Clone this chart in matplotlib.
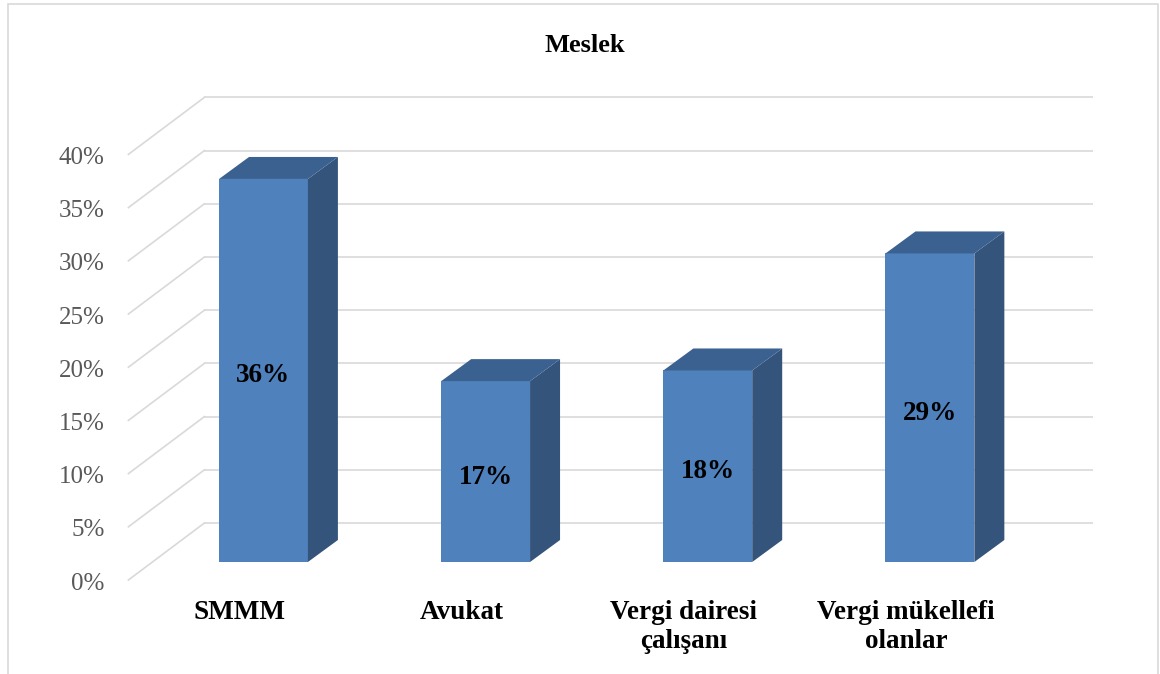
import matplotlib.pyplot as plt
from matplotlib.patches import Rectangle, Polygon

categories = ["SMMM", "Avukat", "Vergi dairesi\nçalışanı", "Vergi mükellefi\nolanlar"]
values = [36, 17, 18, 29]
ticks = [0, 5, 10, 15, 20, 25, 30, 35, 40]
title = "Meslek"

FRONT = "#4F81BD"
SIDE = "#34547C"
TOP = "#3B6190"
GRID = "#D9D9D9"
SERIF = "Liberation Serif"

W, H = 1160, 674
fig = plt.figure(figsize=(W / 100, H / 100), dpi=100)
fig.patch.set_facecolor("white")

# axes = the plane of the bar fronts
ax = fig.add_axes([152.4 / W, 112 / H, 888.6 / W, 425.6 / H])
ax.set_xlim(-0.5, 3.5)
ax.set_ylim(0, 40)
ax.axis("off")

# pixel -> data unit helpers for the fake 3d depth
xs = 888.6 / 4
ys = 425.6 / 40


def px(dx, dy):
    return dx / xs, dy / ys


bdx, bdy = px(30, 22)    # bar depth
wbx, wby = px(52, 39)    # back wall
wfx, wfy = px(-24, -18)  # front edge of the side wall

# back wall gridlines + side wall diagonals
for t in ticks:
    ax.plot([-0.5 + wbx, 3.5 + wbx], [t + wby, t + wby], color=GRID, lw=1.2,
            clip_on=False, zorder=1, solid_capstyle="butt")
    ax.plot([-0.5 + wfx, -0.5 + wbx], [t + wfy, t + wby], color=GRID, lw=1.2,
            clip_on=False, zorder=1)
    ax.text(-0.5 + wfx - 24 / xs, t + wfy - 3.5 / ys, f"{t}%", ha="right",
            va="center", fontsize=18, color="#595959", family=SERIF)

hw = 0.2
for i, v in enumerate(values):
    ax.add_patch(Rectangle((i - hw, 0), 2 * hw, v, facecolor=FRONT,
                           edgecolor="none", zorder=3, clip_on=False))
    side = [(i + hw, 0), (i + hw + bdx, bdy), (i + hw + bdx, v + bdy), (i + hw, v)]
    ax.add_patch(Polygon(side, closed=True, facecolor=SIDE, edgecolor="none",
                         zorder=3, clip_on=False))
    top = [(i - hw, v), (i + hw, v), (i + hw + bdx, v + bdy), (i - hw + bdx, v + bdy)]
    ax.add_patch(Polygon(top, closed=True, facecolor=TOP, edgecolor="none",
                         zorder=3, clip_on=False))
    ax.text(i, v / 2 - 2.5 / ys, f"{v}%", ha="center", va="center_baseline",
            fontsize=19.5, fontweight="bold", family=SERIF, color="black", zorder=4)

# category names, one text per line so the first baseline stays put
for i, c in enumerate(categories):
    for k, line in enumerate(c.split("\n")):
        ax.text(i + wfx, wfy - (39 + 29 * k) / ys, line, ha="center",
                va="baseline", fontsize=19.5, fontweight="bold", family=SERIF,
                clip_on=False)

fig.text(585 / W, 1 - 52 / H, title, ha="center", va="baseline", fontsize=19,
         fontweight="bold", family=SERIF)

# chart frame
fig.add_artist(Rectangle((8 / W, -0.01), 1150 / W, 1 - 4 / H + 0.01,
                         transform=fig.transFigure, fill=False,
                         edgecolor=GRID, lw=1.2))

fig.savefig("out.png", dpi=100, facecolor="white")
